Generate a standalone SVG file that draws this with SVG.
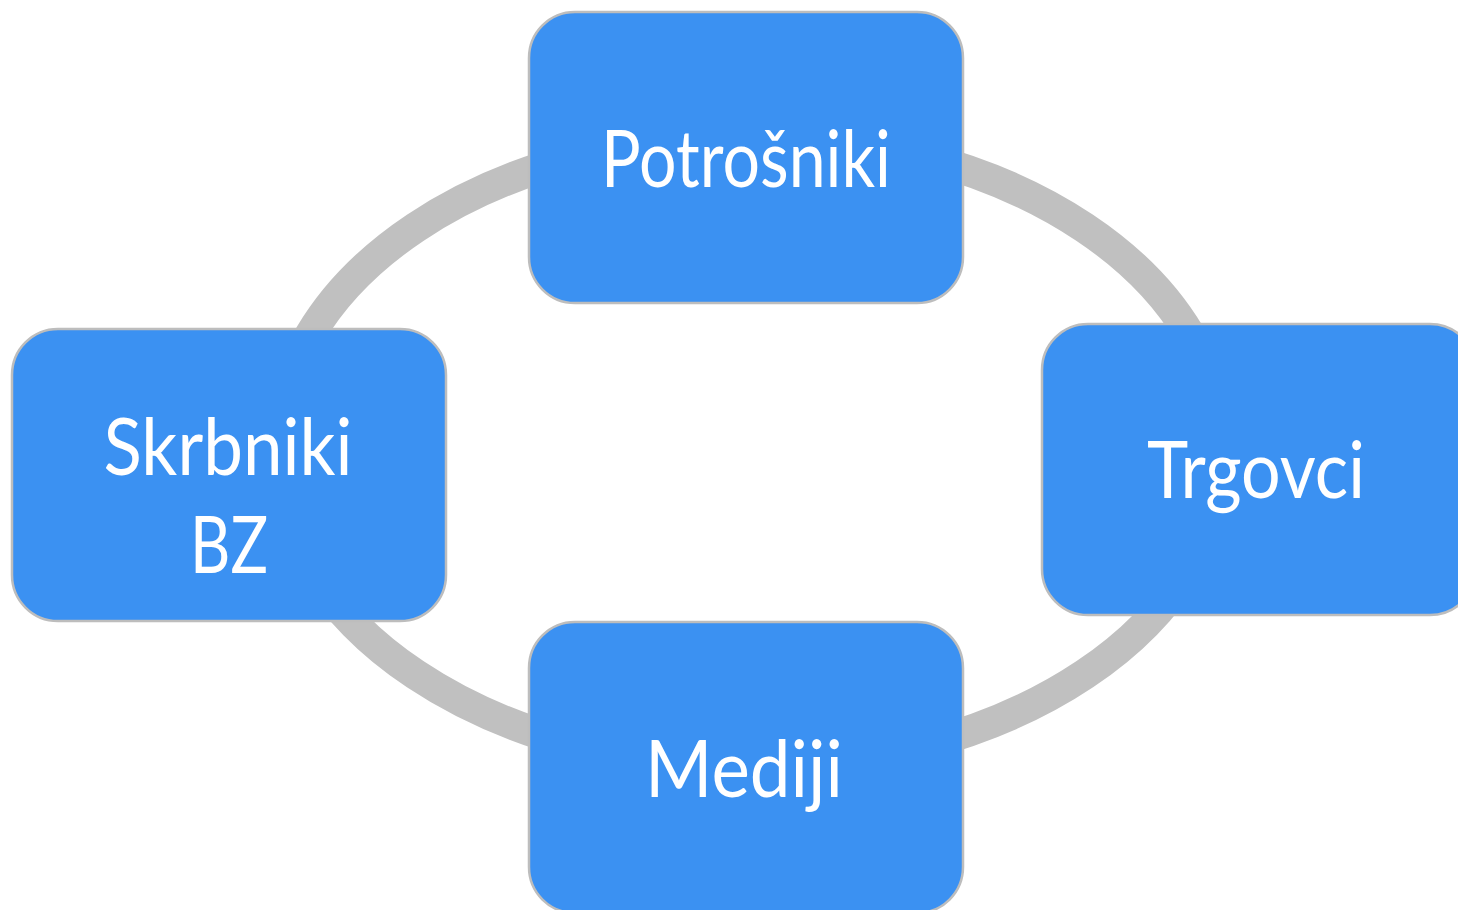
<svg xmlns="http://www.w3.org/2000/svg" width="1458" height="910" viewBox="0 0 1458 910">
<style>
.node rect{fill:#3B91F2;stroke:#BDBDBD;stroke-width:2.5}
.node text{fill:#FFFFFF;font-family:Lato,"Liberation Sans",Arial,sans-serif;font-weight:400;font-size:80px;text-anchor:middle}
.ring{fill:none;stroke:#C0C0C0;stroke-width:31}
</style>
<rect x="0" y="0" width="1458" height="910" fill="#FFFFFF"/>
<g id="connectors">
<ellipse class="ring" cx="750" cy="451" rx="473" ry="316"/>
</g>
<g id="node-potrosniki" class="node">
<rect x="529" y="12" width="434" height="291" rx="46" ry="46"/>
<text x="746" y="187" textLength="290" lengthAdjust="spacingAndGlyphs">Potrošniki</text>
</g>
<g id="node-trgovci" class="node">
<rect x="1042" y="324" width="434" height="291" rx="46" ry="46"/>
<text x="1256" y="498" textLength="218" lengthAdjust="spacingAndGlyphs">Trgovci</text>
</g>
<g id="node-mediji" class="node">
<rect x="529" y="622" width="434" height="291" rx="46" ry="46"/>
<text x="744" y="797" textLength="198" lengthAdjust="spacingAndGlyphs">Mediji</text>
</g>
<g id="node-skrbniki" class="node">
<rect x="12" y="329" width="434" height="292" rx="46" ry="46"/>
<text x="228" y="475" textLength="249" lengthAdjust="spacingAndGlyphs">Skrbniki</text>
<text x="229" y="573" textLength="78" lengthAdjust="spacingAndGlyphs">BZ</text>
</g>
</svg>
